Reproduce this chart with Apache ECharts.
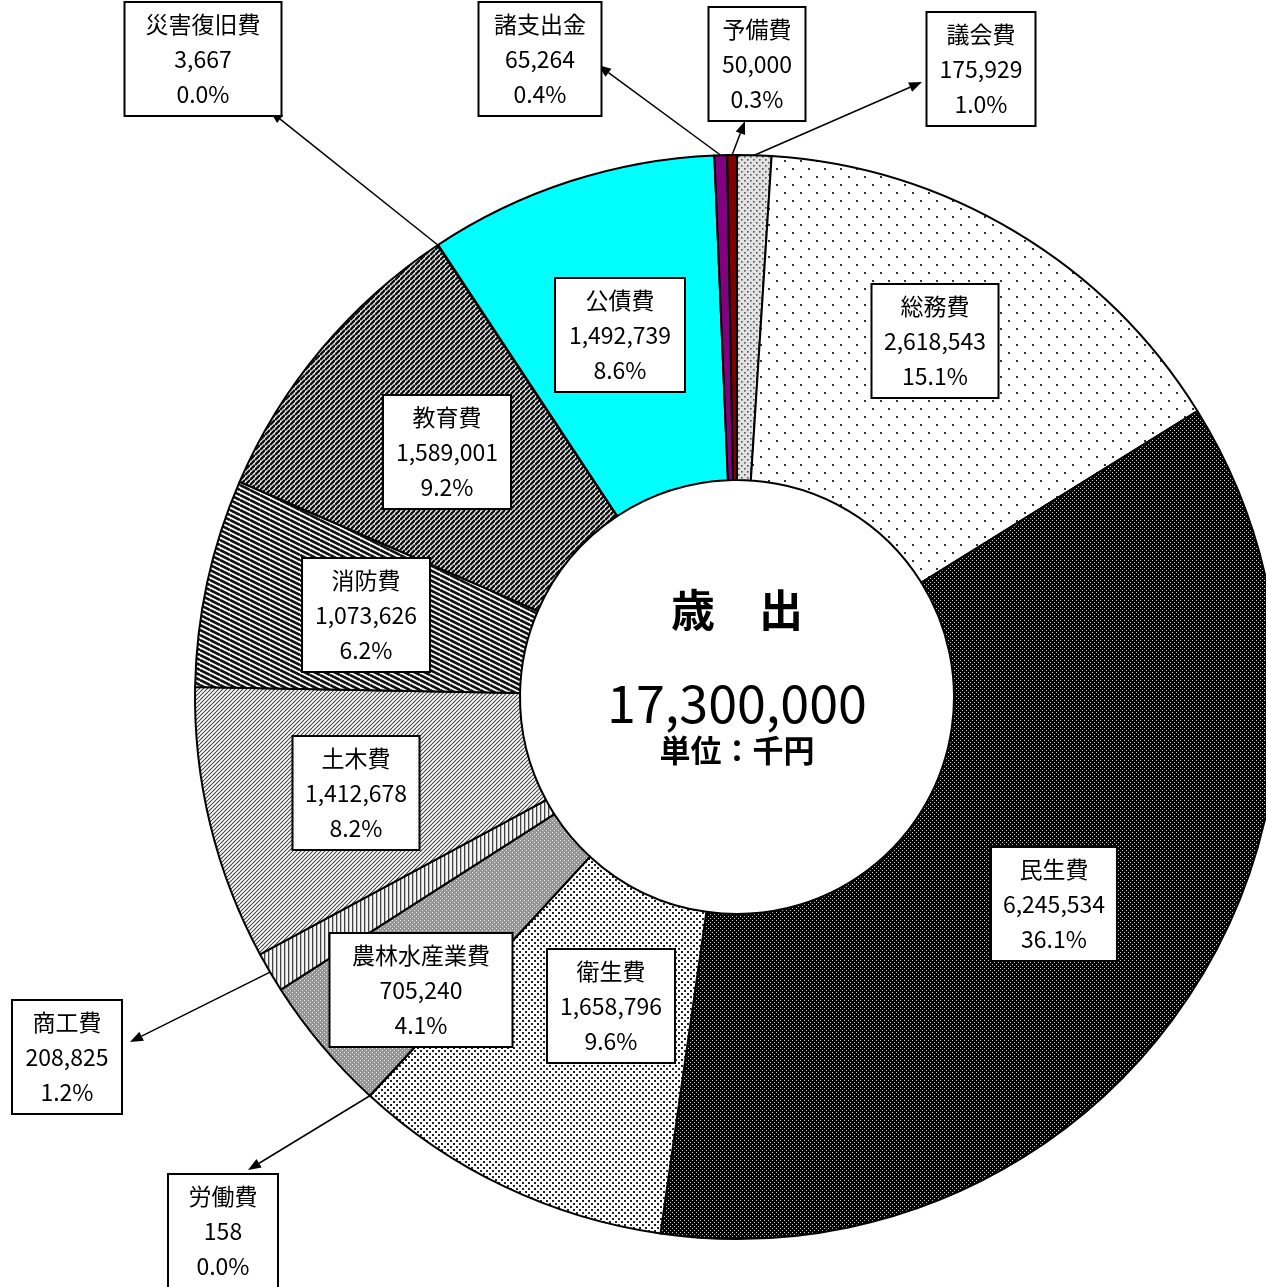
<!DOCTYPE html>
<html>
<head>
<meta charset="utf-8">
<script src="https://cdn.jsdelivr.net/npm/echarts@6/dist/echarts.min.js"></script>
<style>
html,body{margin:0;padding:0;background:#fff;}
#main{width:1266px;height:1287px;}
</style>
</head>
<body>
<div id="main"></div>
<script>
// ---- data ----
const categories = ['議会費','総務費','民生費','衛生費','労働費','農林水産業費','商工費','土木費','消防費','教育費','災害復旧費','公債費','諸支出金','予備費'];
const values = [175929, 2618543, 6245534, 1658796, 158, 705240, 208825, 1412678, 1073626, 1589001, 3667, 1492739, 65264, 50000];
const centerTitle = '歳　出';
const centerTotal = '17,300,000';
const centerUnit = '単位：千円';

// ---- layout / style config ----
const FONT = "'Noto Sans CJK JP', 'Noto Sans', sans-serif";
const labelPos = {
  '議会費':[981,69], '予備費':[757,64], '諸支出金':[540,59], '災害復旧費':[203,59],
  '総務費':[935,341], '公債費':[620,335], '教育費':[447,452], '消防費':[366,615],
  '土木費':[356,793], '農林水産業費':[421,990], '衛生費':[611,1006], '民生費':[1054,904],
  '商工費':[67,1057], '労働費':[223,1231]
};
const boxWidth = {'議会費':109,'予備費':97,'諸支出金':123,'災害復旧費':157,'総務費':127,'公債費':130,'教育費':128,'消防費':128,'土木費':127,'農林水産業費':183,'衛生費':128,'民生費':126,'商工費':110,'労働費':110};
// arrow tip offset from the label box centre
const arrowTip = {'議会費':[-59,13],'予備費':[-12,57],'諸支出金':[58,6],'災害復旧費':[67,52],'商工費':[63,-15],'労働費':[25,-61]};

function pat(w, h, bg, draw) {
  const c = document.createElement('canvas');
  c.width = w; c.height = h;
  const ctx = c.getContext('2d');
  ctx.fillStyle = bg; ctx.fillRect(0, 0, w, h);
  draw(ctx, w, h);
  return { image: c, repeat: 'repeat' };
}
function dots(color, size, pts) {
  return function(ctx) { ctx.fillStyle = color; pts.forEach(p => ctx.fillRect(p[0], p[1], size, size)); };
}
function diag(color, lw, up) {
  return function(ctx, w, h) {
    ctx.strokeStyle = color; ctx.lineWidth = lw;
    for (let k = -1; k <= 1; k++) {
      ctx.beginPath();
      if (up) { ctx.moveTo(0, h + k * h); ctx.lineTo(w, 0 + k * h); }
      else { ctx.moveTo(0, 0 + k * h); ctx.lineTo(w, h + k * h); }
      ctx.stroke();
    }
  };
}
const fills = {
  '議会費': pat(6, 6, '#e2e2e2', dots('#555', 1.6, [[0,0],[3,3]])),
  '総務費': pat(16, 16, '#ffffff', dots('#333', 2, [[0,0],[8,8]])),
  '民生費': pat(4, 4, '#000000', dots('#cfcfcf', 1, [[0,0],[2,2]])),
  '衛生費': pat(6, 6, '#ffffff', dots('#222', 2, [[0,0],[3,3]])),
  '労働費': pat(4, 4, '#ffffff', dots('#000', 1, [[0,0]])),
  '農林水産業費': pat(4, 4, '#959595', dots('#e8e8e8', 1, [[0,0],[2,2]])),
  '商工費': pat(4, 4, '#f4f4f4', function(ctx){ ctx.fillStyle = '#444'; ctx.fillRect(0,0,1.3,4); }),
  '土木費': pat(4, 4, '#ffffff', diag('#444', 1.1, true)),
  '消防費': pat(10, 5, '#ffffff', diag('#111', 2.7, false)),
  '教育費': pat(5, 5, '#ffffff', diag('#111', 2.5, true)),
  '災害復旧費': pat(4, 4, '#ffffff', dots('#000', 1, [[0,0]])),
  '公債費': '#00ffff',
  '諸支出金': '#800080',
  '予備費': '#800000'
};

const total = values.reduce((a, b) => a + b, 0);
const pieData = categories.map((name, i) => ({
  name: name,
  value: values[i],
  itemStyle: { color: fills[name] },
  label: { width: boxWidth[name] - 14 }
}));

const chart = echarts.init(document.getElementById('main'), null, { renderer: 'canvas' });
chart.setOption({
  animation: false,
  backgroundColor: '#ffffff',
  series: [{
    type: 'pie',
    center: [737, 697],
    radius: [217, 542],
    startAngle: 90,
    clockwise: true,
    avoidLabelOverlap: false,
    silent: true,
    itemStyle: { borderColor: '#000', borderWidth: 2 },
    label: {
      show: true,
      position: 'inside',
      formatter: function (p) {
        return p.name + '\n' + p.value.toLocaleString('en-US') + '\n' + (p.value / total * 100).toFixed(1) + '%';
      },
      color: '#000',
      fontFamily: FONT,
      fontSize: 23,
      lineHeight: 35,
      align: 'center',
      backgroundColor: '#fff',
      borderColor: '#000',
      borderWidth: 2,
      padding: [4, 6, 3, 6]
    },
    labelLine: { show: false },
    labelLayout: function (params) {
      const p = labelPos[categories[params.dataIndex]];
      return { x: p[0], y: p[1], align: 'center', verticalAlign: 'middle' };
    },
    data: pieData
  }]
});

// ---- arrows & centre text from the pie's own layout ----
const seriesData = chart.getModel().getSeriesByIndex(0).getData();
const graphics = [];
let cx = 737, cy = 697;
categories.forEach(function (name, i) {
  const lay = seriesData.getItemLayout(i);
  cx = lay.cx; cy = lay.cy;
  if (!arrowTip[name]) return;
  const mid = (lay.startAngle + lay.endAngle) / 2;
  const sx = lay.cx + lay.r * Math.cos(mid);
  const sy = lay.cy + lay.r * Math.sin(mid);
  const c = labelPos[name];
  const ex = c[0] + arrowTip[name][0], ey = c[1] + arrowTip[name][1];
  const dx = ex - sx, dy = ey - sy;
  const len = Math.hypot(dx, dy);
  const ux = dx / len, uy = dy / len;
  const al = 13, aw = 5;
  const bx = ex - ux * al, by = ey - uy * al;
  graphics.push({ type: 'line', silent: true, shape: { x1: sx, y1: sy, x2: bx, y2: by }, style: { stroke: '#000', lineWidth: 1.5 } });
  graphics.push({ type: 'polygon', silent: true, shape: { points: [[ex, ey], [bx - uy * aw, by + ux * aw], [bx + uy * aw, by - ux * aw]] }, style: { fill: '#000' } });
});
graphics.push({ type: 'text', silent: true, x: cx, y: cy - 87, style: { text: centerTitle, font: 'bold 44px ' + FONT, fill: '#000', align: 'center', verticalAlign: 'middle' } });
graphics.push({ type: 'text', silent: true, x: cx, y: cy + 6, style: { text: centerTotal, font: '52px ' + FONT, fill: '#000', align: 'center', verticalAlign: 'middle' } });
graphics.push({ type: 'text', silent: true, x: cx, y: cy + 53, style: { text: centerUnit, font: 'bold 31px ' + FONT, fill: '#000', align: 'center', verticalAlign: 'middle' } });
chart.setOption({ graphic: graphics });
</script>
</body>
</html>
